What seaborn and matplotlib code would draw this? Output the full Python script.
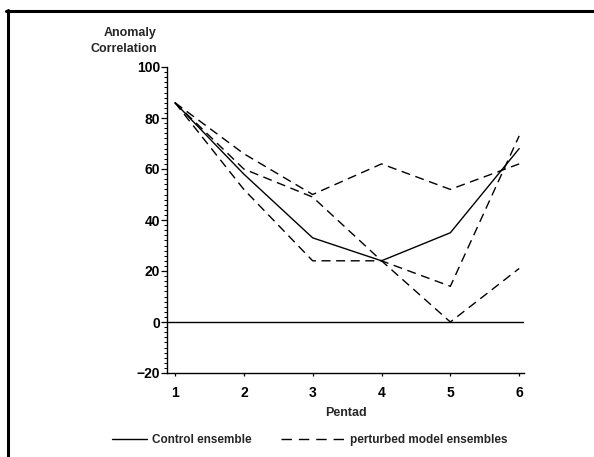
import matplotlib
matplotlib.use("Agg")
import numpy as np
import pandas as pd
import matplotlib.pyplot as plt
from matplotlib.lines import Line2D
from matplotlib.ticker import MultipleLocator, FixedLocator
import seaborn as sns

# ---- data ----
pentads = [1, 2, 3, 4, 5, 6]
control = [86, 58, 33, 24, 35, 68]
perturbed_a = [86, 66, 50, 62, 52, 62]
perturbed_b = [86, 52, 24, 24, 14, 73]
perturbed_c = [86, 60, 49, 24, 0, 21]

y_ticks = [-20, 0, 20, 40, 60, 80, 100]
x_ticks = [1, 2, 3, 4, 5, 6]
y_label = "Anomaly\nCorrelation"
x_label = "Pentad"
legend_labels = ["Control ensemble", "perturbed model ensembles"]

sns.set_theme(style="ticks")
plt.rcParams["font.family"] = ["Liberation Sans", "DejaVu Sans"]
plt.rcParams["font.weight"] = "bold"
plt.rcParams["axes.labelweight"] = "bold"

rows = []
for name, vals in [("control", control), ("a", perturbed_a),
                   ("b", perturbed_b), ("c", perturbed_c)]:
    for p, v in zip(pentads, vals):
        rows.append({"pentad": p, "value": v, "member": name})
df = pd.DataFrame(rows)

W, H = 594, 457
fig = plt.figure(figsize=(W / 100, H / 100), dpi=100)
left, right, bottom, top = 167, 524, 373, 67
ax = fig.add_axes([left / W, 1 - bottom / H, (right - left) / W, (bottom - top) / H])

dash = (6.5, 4)
sns.lineplot(data=df, x="pentad", y="value", style="member",
             dashes={"control": "", "a": dash, "b": dash, "c": dash},
             color="black", lw=1.0, estimator=None, errorbar=None,
             legend=False, ax=ax)

ax.axhline(0, color="black", lw=1.0, zorder=1)

ax.set_xlim(0.884, 6.07)
ax.set_ylim(-20, 100)
ax.xaxis.set_major_locator(FixedLocator(x_ticks))
ax.yaxis.set_major_locator(FixedLocator(y_ticks))
ax.yaxis.set_minor_locator(MultipleLocator(2))
sns.despine(ax=ax)
for s in ("left", "bottom"):
    ax.spines[s].set_linewidth(1.0)
    ax.spines[s].set_color("black")

ax.tick_params(axis="y", which="major", direction="out", length=4, width=0.9,
               pad=1, labelsize=10, colors="black")
ax.tick_params(axis="y", which="minor", direction="out", length=2.2, width=0.7,
               colors="black")
ax.tick_params(axis="x", which="major", direction="out", length=2.5, width=0.9,
               pad=7, labelsize=10, colors="black")
ax.set_facecolor("white")

ax.set_ylabel(y_label, rotation=0, ha="right", va="center", fontsize=9,
              linespacing=1.4)
ax.yaxis.set_label_coords((157 - left) / (right - left), (bottom - 41) / (bottom - top))
ax.set_xlabel(x_label, fontsize=9, va="center")
ax.xaxis.set_label_coords(0.5, (bottom - 413) / (bottom - top))

# figure frame (top and left edges visible in the reference)
fig.add_artist(Line2D([7.5 / W, 7.5 / W], [0, 1 - 10 / H], transform=fig.transFigure,
                      color="black", lw=2.2))
fig.add_artist(Line2D([6 / W, 1], [1 - 11 / H, 1 - 11 / H], transform=fig.transFigure,
                      color="black", lw=2.2))

# legends
h1 = Line2D([], [], color="black", lw=1.0)
h2 = Line2D([], [], color="black", lw=1.0, dashes=(7.5, 5))
fig.legend(handles=[h1], labels=[legend_labels[0]], loc="center left",
           bbox_to_anchor=(112 / W, 1 - 440 / H), frameon=False, fontsize=8.5,
           handlelength=3.0, handletextpad=0.35, borderpad=0, borderaxespad=0)
fig.legend(handles=[h2], labels=[legend_labels[1]], loc="center left",
           bbox_to_anchor=(281 / W, 1 - 440 / H), frameon=False, fontsize=8.5,
           handlelength=5.3, handletextpad=0.55, borderpad=0, borderaxespad=0)

fig.savefig("out.png", dpi=100, facecolor="white")
